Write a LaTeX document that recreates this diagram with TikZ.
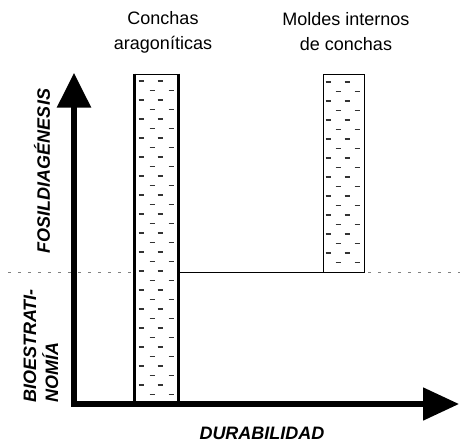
\documentclass[tikz,border=0pt]{standalone}
\usepackage{fontspec}
\setmainfont{Liberation Sans}
\usetikzlibrary{arrows.meta}

\begin{document}
\begin{tikzpicture}[x=.75pt,y=-.75pt,
    axis/.style={line width=3.8pt,line join=miter,
      {Triangle[length=26pt,width=25pt]}-{Triangle[length=27pt,width=24pt]}},
    shell/.style={draw,fill=white,line width=.9pt,inner sep=0pt,anchor=north west},
    grain/.style={line width=1pt,black!80},
    lbl/.style={font=\fontsize{13.5}{18.75}\selectfont,align=center},
    axlbl/.style={font=\fontsize{13.5}{16.5}\selectfont\bfseries\itshape}]
  \useasboundingbox (0,0) rectangle (461,444);
  \draw[gray,line width=.6pt,dash pattern=on 2.25pt off 5.25pt] (8,272) -- (460,272);
  \node[shell,minimum width=32.25pt,minimum height=247.5pt] (aragcol) at (134.5,73.5) {};
  \draw[line width=2.4pt] (aragcol.north west) -- (aragcol.south west)
    (aragcol.north east) -- (aragcol.south east);
  \node[shell,minimum width=30.75pt,minimum height=148.5pt] (moldcol) at (322.5,73.5) {};
  \foreach \y in {81,100,...,385}
    \foreach \x in {138.5,157.5}
      \draw[grain] (\x,\y) -- +(5,0);
  \foreach \y in {90.5,109.5,...,394.5}
    \foreach \x in {149.5,168.5}
      \draw[grain] (\x,\y) -- +(5,0);
  \foreach \y in {82,101,...,253}
    \foreach \x in {325.5,344.5}
      \draw[grain] (\x,\y) -- +(5,0);
  \foreach \y in {91.5,110.5,...,262.5}
    \foreach \x in {335.5,354.5}
      \draw[grain] (\x,\y) -- +(5,0);
  \draw[line width=.8pt] (aragcol.east |- moldcol.south) -- (moldcol.south west);
  \coordinate (ytip) at (74,73);
  \coordinate (origin) at (74,404);
  \coordinate (xtip) at (459,404);
  \draw[axis] (ytip) -- (origin) -- (xtip);
  \node[lbl] (conchas) at (163,32) {Conchas\\aragoníticas};
  \node[lbl] (moldes) at (346,32) {Moldes internos\\de conchas};
  \node[axlbl,rotate=90] (fosil) at (42,171) {FOSILDIAGÉNESIS};
  \node[axlbl,rotate=90,align=left,anchor=west,inner sep=0pt] (bioestrat) at (41,403) {BIOESTRATI-\\NOMÍA};
  \node[axlbl] (durab) at (262,433) {DURABILIDAD};
\end{tikzpicture}
\end{document}
